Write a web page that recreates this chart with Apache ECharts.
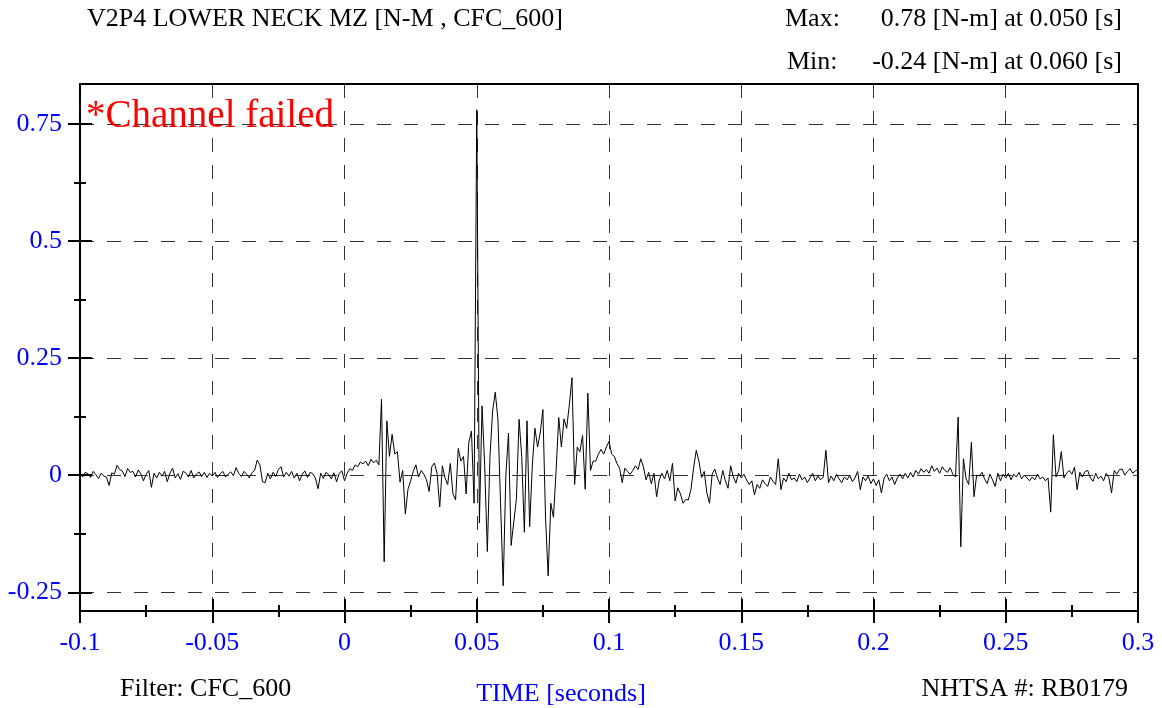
<!DOCTYPE html>
<html>
<head>
<meta charset="utf-8">
<script src="https://cdn.jsdelivr.net/npm/echarts@6.0.0/dist/echarts.min.js"></script>
<style>
html,body{margin:0;padding:0;background:#fff;}
#chart{width:1162px;height:708px;}
</style>
</head>
<body>
<div id="chart"></div>
<script>
// ---- data ----
const TIME_START = -0.1;   // seconds, first sample
const TIME_STEP = 0.001;   // seconds between samples
const values = [
  0.002, -0.004, 0.006, 0.003, -0.005, 0.008, 0.001, -0.007, 0.004, -0.002,
  -0.004, -0.022, 0.005, 0.002, 0.021, 0.012, 0.009, -0.003, 0.014, 0.006,
  0.008, -0.004, 0.011, 0.003, -0.012, 0.002, 0.010, -0.026, 0.004, -0.006,
  0.006, -0.002, 0.008, -0.014, 0.004, 0.015, -0.006, 0.003, -0.009, 0.008,
  0.005, -0.004, 0.010, -0.006, 0.002, 0.007, -0.003, 0.006, -0.005, 0.004,
  -0.002, 0.006, -0.005, 0.003, 0.008, -0.004, 0.002, 0.007, -0.001, 0.016,
  0.004, -0.003, 0.008, 0.002, -0.006, 0.005, 0.010, 0.032, 0.022, -0.014,
  -0.016, 0.004, -0.008, 0.006, -0.003, 0.012, 0.018, -0.004, 0.006, -0.002,
  0.008, -0.006, 0.004, -0.012, 0.002, 0.009, -0.005, 0.006, 0.003, -0.006,
  -0.029, 0.004, -0.007, 0.006, 0.001, -0.008, 0.005, -0.014, 0.004, 0.009,
  -0.012, 0.004, 0.014, 0.010, 0.022, 0.018, 0.028, 0.024, 0.030, 0.020,
  0.034, 0.026, 0.032, 0.022, 0.162, -0.185, 0.116, 0.040, 0.087, 0.045,
  0.050, -0.015, 0.010, -0.083, -0.030, -0.012, 0.008, 0.022, -0.004, 0.010,
  0.002, -0.010, -0.035, 0.018, 0.026, 0.004, -0.068, 0.020, -0.006, -0.020,
  0.025, -0.040, -0.053, 0.057, 0.030, 0.040, -0.040, 0.070, 0.094, -0.060,
  0.780, -0.102, 0.148, 0.020, -0.163, 0.040, 0.137, 0.177, 0.120, -0.060,
  -0.236, 0.000, 0.090, -0.150, -0.100, -0.050, 0.119, 0.040, -0.122, 0.116,
  -0.110, 0.020, 0.100, 0.060, 0.090, 0.140, -0.090, -0.215, -0.060, -0.090,
  0.010, 0.123, 0.060, 0.120, 0.100, 0.150, 0.208, -0.020, 0.060, 0.050,
  0.085, -0.030, 0.175, 0.010, 0.030, 0.030, 0.045, 0.055, 0.045, 0.060,
  0.072, 0.045, 0.040, 0.025, 0.015, -0.016, 0.015, 0.008, 0.002, 0.010,
  0.020, 0.012, 0.035, 0.018, -0.010, 0.006, -0.018, 0.004, -0.046, -0.010,
  0.004, -0.008, 0.010, -0.012, 0.025, -0.055, -0.027, -0.040, -0.060, -0.052,
  -0.053, -0.030, 0.016, 0.053, 0.030, -0.005, 0.008, -0.038, -0.060, 0.002,
  0.013, -0.006, -0.020, 0.010, -0.012, -0.028, 0.020, -0.004, -0.017, 0.004,
  -0.006, 0.002, -0.010, -0.020, -0.012, -0.042, -0.020, -0.028, -0.010, -0.018,
  -0.024, -0.004, -0.013, -0.020, 0.035, -0.031, -0.006, -0.014, 0.004, -0.010,
  -0.006, -0.014, 0.002, -0.010, -0.004, -0.016, -0.006, 0.004, -0.012, -0.002,
  -0.010, -0.004, 0.053, -0.016, -0.002, -0.012, 0.002, -0.008, -0.016, -0.004,
  -0.010, 0.000, -0.014, -0.006, 0.008, -0.031, -0.004, -0.012, -0.002, -0.018,
  -0.008, -0.022, -0.010, -0.038, -0.006, 0.002, -0.012, -0.004, -0.020, -0.006,
  0.002, -0.008, 0.004, -0.006, 0.006, -0.004, 0.010, 0.002, 0.014, 0.006,
  0.012, 0.004, 0.020, 0.008, 0.015, 0.004, 0.018, 0.010, 0.006, 0.016,
  0.002, -0.004, 0.124, -0.153, 0.035, -0.008, -0.020, 0.070, -0.046, 0.000,
  -0.002, 0.006, -0.008, -0.018, 0.002, -0.010, -0.024, 0.004, -0.012, 0.002,
  -0.006, 0.004, -0.010, 0.002, -0.004, 0.006, -0.008, 0.000, -0.006, -0.012,
  -0.004, -0.010, 0.002, -0.008, -0.004, -0.012, -0.006, -0.079, 0.086, -0.004,
  0.010, 0.050, -0.006, 0.004, 0.010, 0.002, 0.017, -0.031, 0.006, -0.004,
  0.008, 0.010, -0.006, -0.013, 0.004, -0.008, -0.002, -0.012, 0.004, -0.006,
  -0.038, 0.010, 0.002, 0.012, 0.013, 0.000, 0.008, 0.014, 0.004, 0.009,
  0.012
];
const yMajorTicks = [-0.25, 0, 0.25, 0.5, 0.75];
const yMinorTicks = [-0.125, 0.125, 0.375, 0.625];
const xMin = -0.1, xMax = 0.3, xInterval = 0.05;
const yMin = -0.29, yMax = 0.835;

const titleText = 'V2P4 LOWER NECK MZ [N-M , CFC_600]';
const maxLabel = 'Max:';
const maxText = '0.78 [N-m] at 0.050 [s]';
const minLabel = 'Min:';
const minText = '-0.24 [N-m] at 0.060 [s]';
const failText = '*Channel failed';
const filterText = 'Filter: CFC_600';
const xAxisName = 'TIME [seconds]';
const idText = 'NHTSA #: RB0179';

// ---- build ----
const seriesData = values.map((v, i) => [+(TIME_START + i * TIME_STEP).toFixed(4), v]);
const FONT = "'Liberation Serif', 'Times New Roman', serif";
const fmt = v => String(+(+v).toFixed(3));
const dashed = { show: true, lineStyle: { color: '#333333', width: 1, type: [14, 13] } };
const noLine = { show: false, onZero: false };

function yAx(opts) {
  return Object.assign({
    type: 'value', position: 'left', min: yMin, max: yMax,
    axisLine: noLine, axisLabel: { show: false }, splitLine: { show: false },
    axisTick: { show: false }
  }, opts);
}
function xAx(opts) {
  return Object.assign({
    type: 'value', position: 'bottom', min: xMin, max: xMax, interval: xInterval,
    axisLine: noLine, axisLabel: { show: false }, splitLine: { show: false },
    axisTick: { show: false }
  }, opts);
}

const chart = echarts.init(document.getElementById('chart'), null, { renderer: 'canvas' });
chart.setOption({
  animation: false,
  backgroundColor: '#ffffff',
  grid: { left: 80, right: 24, top: 84, bottom: 97, containLabel: false },
  xAxis: [
    xAx({
      axisLine: { show: true, onZero: false, lineStyle: { color: '#000', width: 2 } },
      axisTick: { show: true, inside: false, length: 12, lineStyle: { color: '#000', width: 2 } },
      minorTick: { show: true, splitNumber: 2, length: 6, lineStyle: { color: '#000', width: 2 } },
      axisLabel: { show: true, color: '#0000ff', fontFamily: FONT, fontSize: 26, margin: 19, formatter: fmt },
      splitLine: dashed
    }),
    xAx({
      axisTick: { show: true, inside: true, length: 12, lineStyle: { color: '#000', width: 2 } },
      minorTick: { show: true, splitNumber: 2, length: 6, lineStyle: { color: '#000', width: 2 } }
    }),
    xAx({ position: 'top', axisLine: { show: true, onZero: false, lineStyle: { color: '#000', width: 2 } } })
  ],
  yAxis: [
    yAx({
      axisLine: { show: true, onZero: false, lineStyle: { color: '#000', width: 2 } },
      axisTick: { show: true, inside: false, length: 12, customValues: yMajorTicks, lineStyle: { color: '#000', width: 2 } },
      axisLabel: { show: true, customValues: yMajorTicks, color: '#0000ff', fontFamily: FONT, fontSize: 26, margin: 18, formatter: fmt },
      splitLine: dashed
    }),
    yAx({ axisTick: { show: true, inside: true, length: 12, customValues: yMajorTicks, lineStyle: { color: '#000', width: 2 } } }),
    yAx({ axisTick: { show: true, inside: false, length: 6, customValues: yMinorTicks, lineStyle: { color: '#000', width: 2 } } }),
    yAx({ axisTick: { show: true, inside: true, length: 6, customValues: yMinorTicks, lineStyle: { color: '#000', width: 2 } } }),
    yAx({ position: 'right', axisLine: { show: true, onZero: false, lineStyle: { color: '#000', width: 2 } } })
  ],
  series: [{
    type: 'line',
    xAxisIndex: 0, yAxisIndex: 0,
    data: seriesData,
    showSymbol: false,
    symbol: 'none',
    lineStyle: { color: '#000', width: 1 },
    z: 5
  }],
  graphic: [
    { type: 'text', x: 87, y: 19, z: 100, style: { text: titleText, font: "26px " + FONT, fill: '#000', align: 'left', verticalAlign: 'middle' } },
    { type: 'text', x: 785, y: 19, z: 100, style: { text: maxLabel, font: "26px " + FONT, fill: '#000', align: 'left', verticalAlign: 'middle' } },
    { type: 'text', x: 1122, y: 19, z: 100, style: { text: maxText, font: "26px " + FONT, fill: '#000', align: 'right', verticalAlign: 'middle' } },
    { type: 'text', x: 787, y: 62, z: 100, style: { text: minLabel, font: "26px " + FONT, fill: '#000', align: 'left', verticalAlign: 'middle' } },
    { type: 'text', x: 1122, y: 62, z: 100, style: { text: minText, font: "26px " + FONT, fill: '#000', align: 'right', verticalAlign: 'middle' } },
    { type: 'text', x: 86, y: 117, z: 100, style: { text: failText, font: "39px " + FONT, fill: '#ff0000', align: 'left', verticalAlign: 'middle' } },
    { type: 'text', x: 120, y: 689, z: 100, style: { text: filterText, font: "26px " + FONT, fill: '#000', align: 'left', verticalAlign: 'middle' } },
    { type: 'text', x: 561, y: 694, z: 100, style: { text: xAxisName, font: "26px " + FONT, fill: '#0000ff', align: 'center', verticalAlign: 'middle' } },
    { type: 'text', x: 1128, y: 689, z: 100, style: { text: idText, font: "26px " + FONT, fill: '#000', align: 'right', verticalAlign: 'middle' } }
  ]
});
</script>
</body>
</html>
